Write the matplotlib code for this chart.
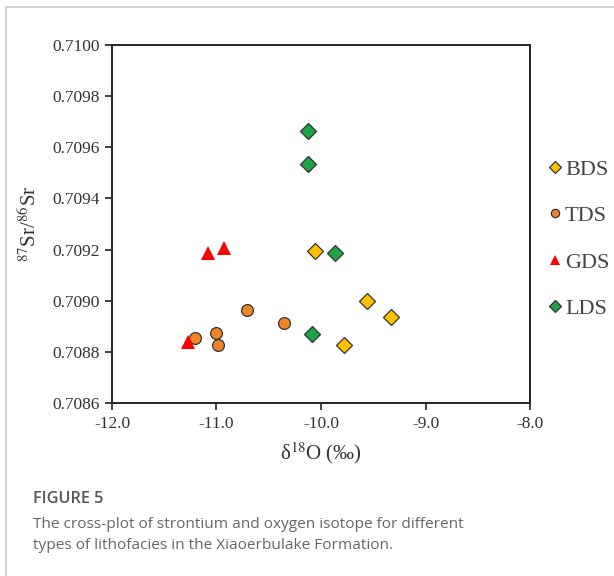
import matplotlib
matplotlib.use("Agg")
import matplotlib.pyplot as plt
from matplotlib.lines import Line2D

plt.rcParams['font.family'] = ['Liberation Serif', 'DejaVu Serif']
plt.rcParams['mathtext.fontset'] = 'stix'

# данные
bds_x = [-10.06, -9.56, -9.33, -9.78]
bds_y = [0.709194, 0.709000, 0.708936, 0.708827]

tds_x = [-11.21, -11.00, -10.99, -10.71, -10.35]
tds_y = [0.708854, 0.708875, 0.708827, 0.708964, 0.708912]

gds_x = [-11.08, -10.93, -11.27]
gds_y = [0.709185, 0.709207, 0.708837]

lds_x = [-10.12, -10.12, -9.87, -10.09]
lds_y = [0.709664, 0.709535, 0.709185, 0.708870]

x_ticks = [-12.0, -11.0, -10.0, -9.0, -8.0]
y_ticks = [0.7086, 0.7088, 0.7090, 0.7092, 0.7094, 0.7096, 0.7098, 0.7100]

fig = plt.figure(figsize=(6.14, 5.76), dpi=100)
ax = fig.add_axes([0.1824, 0.3003, 0.6808, 0.6215])

edge = '#333333'
ax.plot(bds_x, bds_y, 'D', ms=8.5, mfc='#FFC000', mec=edge, mew=0.9, ls='none', label='BDS')
ax.plot(tds_x, tds_y, 'o', ms=8.5, mfc='#EE8425', mec=edge, mew=0.9, ls='none', label='TDS')
ax.plot(gds_x, gds_y, '^', ms=10, mfc='#FF0000', mec='#FF0000', mew=0, ls='none', label='GDS')
ax.plot(lds_x, lds_y, 'D', ms=8.5, mfc='#1FA34A', mec=edge, mew=0.9, ls='none', label='LDS')

ax.set_xlim(-12, -8)
ax.set_ylim(0.7086, 0.7100)
ax.set_xticks(x_ticks)
ax.set_xticklabels([f'{v:.1f}' for v in x_ticks])
ax.set_yticks(y_ticks)
ax.set_yticklabels([f'{v:.4f}' for v in y_ticks])
ax.tick_params(direction='out', length=5, width=1.2, labelsize=12.5, colors='#222222',
               labelcolor='#333333', pad=4)
for s in ax.spines.values():
    s.set_linewidth(1.4)
    s.set_color('#222222')

ax.set_xlabel('δ$^{18}$O (‰)', fontsize=15, color='#333333', labelpad=6)
ax.set_ylabel('$^{87}$Sr/$^{86}$Sr', fontsize=15, color='#333333', labelpad=8)

leg = ax.legend(loc='center left', bbox_to_anchor=(1.025, 0.458), frameon=False,
                fontsize=16, labelspacing=1.16, handlelength=0.5, handletextpad=0.2,
                markerscale=0.7, borderaxespad=0)
for t in leg.get_texts():
    t.set_color('#444444')

# рамка карточки
fig.add_artist(Line2D([6 / 614, 6 / 614], [0, 1 - 7 / 576], color='#cccccc', lw=1.2))
fig.add_artist(Line2D([6 / 614, 1], [1 - 7 / 576, 1 - 7 / 576], color='#cccccc', lw=1.2))

# подпись
fig.text(33 / 614, 1 - 503 / 576, 'FIGURE 5', fontsize=11.7, family='Open Sans',
         weight='semibold', color='#555555', va='baseline')
fig.text(33 / 614, 1 - 528 / 576,
         'The cross-plot of strontium and oxygen isotope for different',
         fontsize=11.1, family='Open Sans', color='#666666', va='baseline')
fig.text(33 / 614, 1 - 549 / 576,
         'types of lithofacies in the Xiaoerbulake Formation.',
         fontsize=11.1, family='Open Sans', color='#666666', va='baseline')

fig.savefig('out.png', dpi=100)
